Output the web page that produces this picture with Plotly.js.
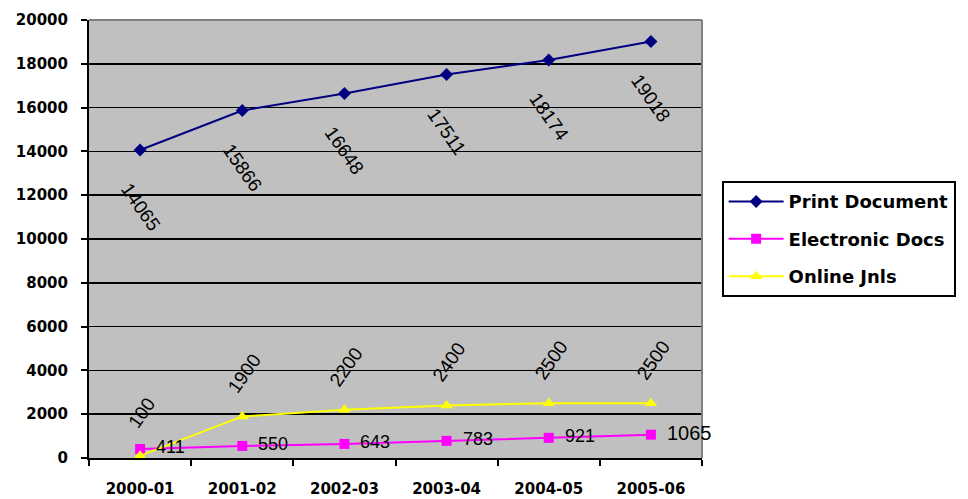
<!DOCTYPE html>
<html><head><meta charset="utf-8">
<script src="https://cdn.plot.ly/plotly-3.0.1.min.js"></script>
<style>html,body{margin:0;padding:0;background:#fff}#c{width:968px;height:499px}</style>
</head><body><div id="c"></div>
<script>
const categories = ["2000-01","2001-02","2002-03","2003-04","2004-05","2005-06"];
const printDocs = [14065, 15866, 16648, 17511, 18174, 19018];
const electronicDocs = [411, 550, 643, 783, 921, 1065];
const onlineJnls = [100, 1900, 2200, 2400, 2500, 2500];
const yTicks = [0,2000,4000,6000,8000,10000,12000,14000,16000,18000,20000];
const yTickText = ["0","2000","4000","6000","8000","10000","12000","14000","16000","18000","20000"];

const traces = [
  {x: categories, y: printDocs, name: "Print Document", mode: "lines+markers", legendgroup: "a",
   line: {color: "#000080", width: 2}, marker: {symbol: "diamond", size: 10, color: "#000080"}},
  {x: categories, y: electronicDocs, name: "Electronic Docs", mode: "lines+markers", legendgroup: "b",
   line: {color: "#ff00ff", width: 2}, marker: {symbol: "square", size: 10, color: "#ff00ff"}},
  {x: categories, y: onlineJnls, name: "Online Jnls", mode: "lines+markers", legendgroup: "c",
   line: {color: "#ffff00", width: 2}, marker: {symbol: "triangle-up", size: 11, color: "#ffff00"}}
];

const ann = [];
const lblFont = {family: "Liberation Sans, Arial, sans-serif", size: 19, color: "#000"};
categories.forEach((c, i) => {
  ann.push({x: c, y: printDocs[i], xref: "x", yref: "y", text: String(printDocs[i]),
    showarrow: false, textangle: 55, yshift: -57, xshift: 0, font: lblFont});
  ann.push({x: c, y: onlineJnls[i], xref: "x", yref: "y", text: String(onlineJnls[i]),
    showarrow: false, textangle: -55, yshift: 43, xshift: 2, font: lblFont});
  ann.push({x: c, y: electronicDocs[i], xref: "x", yref: "y", text: String(electronicDocs[i]),
    showarrow: false, xanchor: "left", xshift: 14, yshift: 2,
    font: Object.assign({}, lblFont, {size: i === 5 ? 20 : 18})});
});

const axFont = {family: "DejaVu Sans, sans-serif", size: 15, color: "#000", weight: "bold"};
const layout = {
  width: 968, height: 499,
  margin: {l: 89, r: 263, t: 20, b: 41},
  paper_bgcolor: "#ffffff", plot_bgcolor: "#c0c0c0",
  showlegend: true, hovermode: false,
  legend: {x: 1.032, y: 0.632, xanchor: "left", yanchor: "top",
    bordercolor: "#000", borderwidth: 2, bgcolor: "#fff",
    font: {family: "DejaVu Sans, sans-serif", size: 18, color: "#000", weight: "bold"},
    tracegroupgap: 11, itemwidth: 55},
  xaxis: {type: "category", tickson: "boundaries", ticks: "outside", ticklen: 6,
    tickcolor: "#000", tickwidth: 2, showline: true, linecolor: "#000", linewidth: 2,
    showgrid: false, tickfont: axFont, range: [-0.5, 5.5], ticklabelstandoff: 16},
  yaxis: {range: [0, 20000], tickvals: yTicks, ticktext: yTickText, ticks: "outside", ticklen: 6,
    tickcolor: "#000", tickwidth: 2, showline: true, linecolor: "#000", linewidth: 2,
    showgrid: true, gridcolor: "#000", gridwidth: 1.5, zeroline: false,
    tickfont: axFont, ticklabelstandoff: 10},
  shapes: [
    {type: "line", xref: "paper", yref: "paper", x0: 0, x1: 1, y0: 1, y1: 1, line: {color: "#808080", width: 2}},
    {type: "line", xref: "paper", yref: "paper", x0: 1, x1: 1, y0: 0, y1: 1, line: {color: "#808080", width: 2}}
  ],
  annotations: ann
};
Plotly.newPlot("c", traces, layout, {displayModeBar: false, staticPlot: true});
</script></body></html>
